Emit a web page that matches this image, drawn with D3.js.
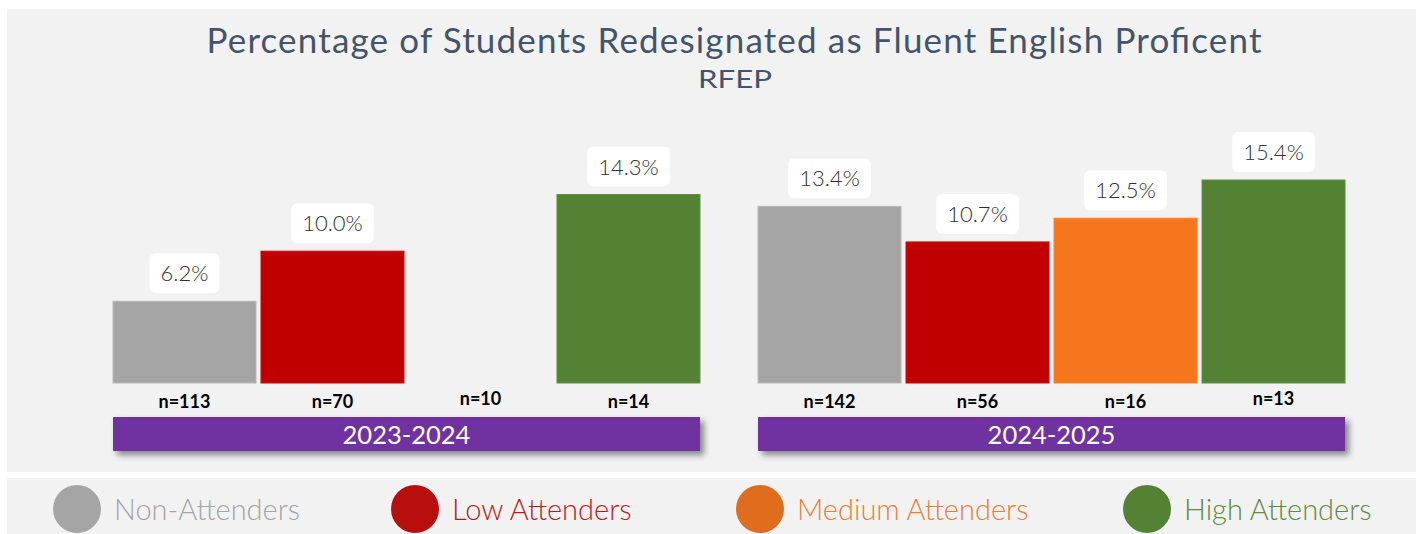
<!DOCTYPE html>
<html><head><meta charset="utf-8">
<script src="https://cdn.jsdelivr.net/npm/d3@7"></script>
<style>body{margin:0;background:#fff;} svg{display:block;}</style>
</head><body><svg id="c" width="1424" height="534"></svg>
<script>
const years = ["2023-2024", "2024-2025"];
const categories = ["Non-Attenders", "Low Attenders", "Medium Attenders", "High Attenders"];
const values2023 = [6.2, 10.0, null, 14.3];
const values2024 = [13.4, 10.7, 12.5, 15.4];
const n2023 = ["n=113", "n=70", "n=10", "n=14"];
const n2024 = ["n=142", "n=56", "n=16", "n=13"];
const barColors = ["#a5a5a5", "#c00000", "#f5761c", "#548235"];
const legendColors = ["#a5a5a5", "#b90e0e", "#e06c1e", "#548235"];
const legendTextColors = ["#a5a5a5", "#c0161b", "#e97f35", "#5f8a44"];
const title = "Percentage of Students Redesignated as Fluent English Proficent";
const subtitle = "RFEP";

const data = [];
years.forEach((yr, gi) => {
  const vals = gi === 0 ? values2023 : values2024;
  const ns = gi === 0 ? n2023 : n2024;
  categories.forEach((c, ci) => data.push({year: yr, cat: c, value: vals[ci], n: ns[ci], ci}));
});

const svg = d3.select("#c");
const defs = svg.append("defs");
const f = defs.append("filter").attr("id","sh").attr("x","-5%").attr("y","-30%").attr("width","115%").attr("height","180%");
f.append("feDropShadow").attr("dx",4).attr("dy",4).attr("stdDeviation",3).attr("flood-color","#000").attr("flood-opacity",0.45);

// panels
svg.append("rect").attr("x",7).attr("y",9).attr("width",1409).attr("height",463).attr("fill","#f2f2f2");
svg.append("rect").attr("x",7).attr("y",478).attr("width",1409).attr("height",56).attr("fill","#f2f2f2");

svg.append("text").attr("x",734).attr("y",53).attr("text-anchor","middle")
  .style("font-family","Lato").style("font-weight",400).style("font-size","35px").attr("fill","#44546a")
  .attr("textLength", 1055).attr("lengthAdjust","spacing")
  .text(title);
svg.append("text").attr("transform","translate(735,88) scale(1.25,1)").attr("text-anchor","middle")
  .style("font-family","Lato").style("font-weight",400).style("font-size","25px").attr("fill","#44546a")
  .text(subtitle);

const x0 = d3.scaleBand().domain(years).range([113, 1345]).paddingInner(0.09);
const x1 = d3.scaleBand().domain(categories).range([0, x0.bandwidth()]).paddingInner(0.034);
const y = d3.scaleLinear().domain([0, 15.4]).range([383, 180]);

const g = svg.append("g");
const items = g.selectAll("g.item").data(data).join("g").attr("class","item")
  .attr("transform", d => `translate(${x0(d.year) + x1(d.cat)},0)`);

items.filter(d => d.value != null).append("rect")
  .attr("x", 0).attr("width", x1.bandwidth())
  .attr("y", d => y(d.value)).attr("height", d => y(0) - y(d.value))
  .attr("fill", d => barColors[d.ci])
  .attr("stroke", d => d3.color(barColors[d.ci]).brighter(0.3)).attr("stroke-width",1);

// value labels with white boxes
items.filter(d => d.value != null).each(function(d){
  const s = d3.select(this);
  const t = s.append("text").attr("x", x1.bandwidth()/2).attr("y", y(d.value) - 20)
    .attr("text-anchor","middle").style("font-family","Lato").style("font-weight",300)
    .style("font-size","22px").attr("fill","#303030").text(d.value.toFixed(1) + "%");
  const w = t.node().getComputedTextLength() + 22;
  s.insert("rect","text").attr("x", x1.bandwidth()/2 - w/2).attr("y", y(d.value) - 48)
    .attr("width", w).attr("height", 40).attr("rx", 6).attr("fill","#ffffff");
});

items.append("text").attr("x", x1.bandwidth()/2).attr("y", (d) => (d.n === "n=10" || d.n === "n=13") ? 405 : 408)
  .attr("text-anchor","middle").style("font-family","Lato").style("font-weight",700)
  .style("font-size","18px").attr("fill","#000").text(d => d.n);

// year bars
const yb = svg.append("g").selectAll("g").data(years).join("g");
yb.append("rect").attr("x", d => x0(d)).attr("width", x0.bandwidth()).attr("y", 417).attr("height", 34)
  .attr("fill","#7030a0").attr("filter","url(#sh)");
yb.append("text").attr("x", d => x0(d) + x0.bandwidth()/2).attr("y", 444).attr("text-anchor","middle")
  .style("font-family","Lato").style("font-size","25.5px").attr("fill","#fff").text(d => d);

// legend
const legX = [77, 415, 760, 1147];
const lg = svg.append("g").selectAll("g").data(categories).join("g")
  .attr("transform", (d,i) => `translate(${legX[i]},509)`);
lg.append("circle").attr("r", 24).attr("fill", (d,i) => legendColors[i]);
lg.append("text").attr("x", 37).attr("y", 11).style("font-family","Lato").style("font-weight",300)
  .style("font-size","29px").attr("fill", (d,i) => legendTextColors[i]).text(d => d);
</script></body></html>
